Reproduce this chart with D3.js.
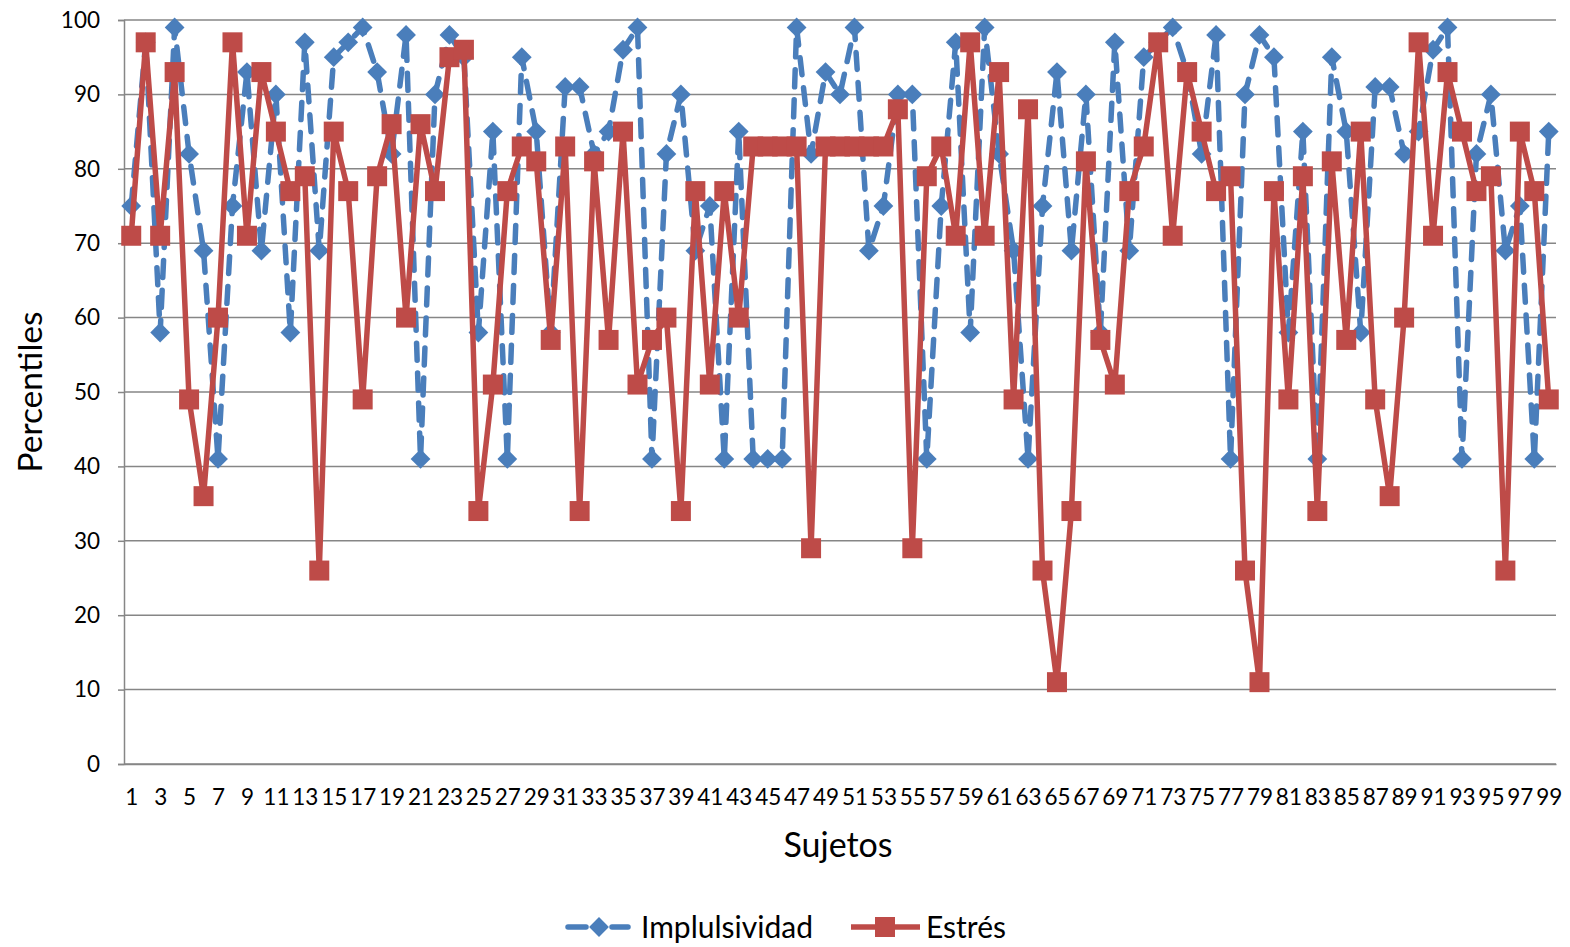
<!DOCTYPE html>
<html><head><meta charset="utf-8">
<script src="https://cdn.jsdelivr.net/npm/d3@7"></script>
<style>
html,body{margin:0;padding:0;background:#fff;}
svg{display:block;font-family:Lato,"Open Sans",sans-serif;}
</style></head>
<body><svg id="chart" width="1570" height="947"></svg>
<script>
const sujetos = d3.range(1, 100);
const impulsividad = [75,97,58,99,82,69,41,75,93,69,90,58,97,69,95,97,99,93,82,98,41,90,98,95,58,85,41,95,85,58,91,91,82,85,96,99,41,82,90,69,75,41,85,41,41,41,99,82,93,90,99,69,75,90,90,41,75,97,58,99,82,69,41,75,93,69,90,58,97,69,95,97,99,93,82,98,41,90,98,95,58,85,41,95,85,58,91,91,82,85,96,99,41,82,90,69,75,41,85];
const estres = [71,97,71,93,49,36,60,97,71,93,85,77,79,26,85,77,49,79,86,60,86,77,95,96,34,51,77,83,81,57,83,34,81,57,85,51,57,60,34,77,51,77,60,83,83,83,83,29,83,83,83,83,83,88,29,79,83,71,97,71,93,49,88,26,11,34,81,57,51,77,83,97,71,93,85,77,79,26,11,77,49,79,34,81,57,85,49,36,60,97,71,93,85,77,79,26,85,77,49];
const yTicks = d3.range(0, 101, 10);
const seriesNames = ["Implulsividad", "Estrés"];
const xTitle = "Sujetos", yTitle = "Percentiles";

const blue = "#4A7EBB", red = "#BE4B48", grid = "#868686";
const svg = d3.select("#chart");
const L = 124, R = 1556, T = 20, B = 764;
const x = d3.scalePoint().domain(sujetos).range([L, R]).padding(0.5);
const y = d3.scaleLinear().domain([0, 100]).range([B, T]);

// gridlines
svg.append("g").selectAll("line").data(yTicks).join("line")
  .attr("x1", L).attr("x2", R).attr("y1", d => y(d)).attr("y2", d => y(d))
  .attr("stroke", grid).attr("stroke-width", 1.5);

// y axis
const ya = svg.append("g").attr("transform", `translate(${L},0)`)
  .call(d3.axisLeft(y).tickValues(yTicks).tickSize(6).tickPadding(18));
ya.select(".domain").attr("stroke", grid).attr("stroke-width", 1.5);
ya.selectAll(".tick line").attr("stroke", grid).attr("stroke-width", 1.5);
ya.selectAll("text").attr("font-size", 22.5).attr("fill", "#000").attr("font-family", "Lato");

// x axis
const xa = svg.append("g").attr("transform", `translate(0,${B})`)
  .call(d3.axisBottom(x).tickValues(sujetos.filter(d => d % 2 === 1)).tickSize(0).tickPadding(25));
xa.select(".domain").attr("stroke", grid).attr("stroke-width", 1.5);
xa.selectAll("text").attr("font-size", 22.5).attr("fill", "#000").attr("font-family", "Lato");

const line = d3.line().x((d, i) => x(sujetos[i])).y(d => y(d));

// Impulsividad series
svg.append("path").datum(impulsividad).attr("d", line)
  .attr("fill", "none").attr("stroke", blue).attr("stroke-width", 5.5)
  .attr("stroke-dasharray", "17,13").attr("stroke-linecap", "round").attr("stroke-linejoin", "round");
const diamond = d3.symbol().type(d3.symbolDiamond2).size(250);
svg.append("g").selectAll("path").data(impulsividad).join("path")
  .attr("d", diamond).attr("transform", (d, i) => `translate(${x(sujetos[i])},${y(d)})`)
  .attr("fill", blue);

// Estres series
svg.append("path").datum(estres).attr("d", line)
  .attr("fill", "none").attr("stroke", red).attr("stroke-width", 5.5).attr("stroke-linejoin", "round");
svg.append("g").selectAll("rect").data(estres).join("rect")
  .attr("x", (d, i) => x(sujetos[i]) - 10).attr("y", d => y(d) - 10)
  .attr("width", 20).attr("height", 20).attr("fill", red);

// titles
svg.append("text").attr("x", 838).attr("y", 857).attr("text-anchor", "middle")
  .attr("font-size", 34).attr("font-family", "Lato").text(xTitle);
svg.append("text").attr("transform", "translate(42,392) rotate(-90)").attr("text-anchor", "middle")
  .attr("font-size", 33.5).attr("font-family", "Lato").text(yTitle);

// legend
const lg = svg.append("g");
lg.append("line").attr("x1", 568).attr("x2", 586).attr("y1", 927).attr("y2", 927)
  .attr("stroke", blue).attr("stroke-width", 5.5).attr("stroke-linecap", "round");
lg.append("line").attr("x1", 612).attr("x2", 628).attr("y1", 927).attr("y2", 927)
  .attr("stroke", blue).attr("stroke-width", 5.5).attr("stroke-linecap", "round");
lg.append("path").attr("d", diamond).attr("transform", "translate(599,927)").attr("fill", blue);
lg.append("text").attr("x", 641).attr("y", 938).attr("font-size", 30).attr("font-family", "Lato").text(seriesNames[0]);
lg.append("line").attr("x1", 851).attr("x2", 920).attr("y1", 927).attr("y2", 927)
  .attr("stroke", red).attr("stroke-width", 5.5);
lg.append("rect").attr("x", 875).attr("y", 917).attr("width", 20).attr("height", 20).attr("fill", red);
lg.append("text").attr("x", 926).attr("y", 938).attr("font-size", 30).attr("font-family", "Lato").text(seriesNames[1]);
</script></body></html>
